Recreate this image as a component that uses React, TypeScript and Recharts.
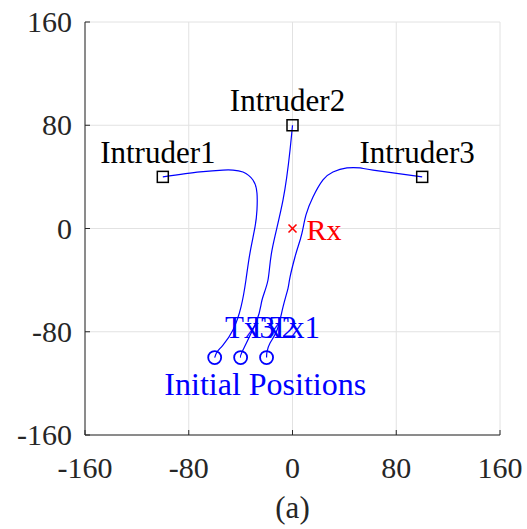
import React from 'react';
import { ScatterChart, Scatter, XAxis, YAxis, CartesianGrid } from 'recharts';

const X_TICKS = [-160, -80, 0, 80, 160];
const Y_TICKS = [-160, -80, 0, 80, 160];

// intruder end points
const INTRUDER_X = [-100, 0, 100];
const INTRUDER_Y = [40, 80, 40];
const INTRUDER_NAMES = ['Intruder1', 'Intruder2', 'Intruder3'];

// transmitter start points
const START_X = [-60, -40, -20];
const START_Y = [-100, -100, -100];

// Tx label anchors (text baseline, left edge)
const TX_NAMES = ['Tx3', 'Tx2', 'Tx1'];
const TX_LABEL_X = [-52, -35, -17.3];
const TX_LABEL_Y = [-85, -85, -85];

const RX_X = 0;
const RX_Y = 0;

// trajectories [x, y]
const PATH_TX3 = [
  [-60, -100], [-58.2, -95.7], [-53.6, -90.3], [-45.9, -78.6], [-39.7, -60.8],
  [-35.9, -39.9], [-32.8, -19.0], [-28.9, 1.2], [-27.4, 14.3], [-27.4, 27.5],
  [-30.5, 37.6], [-38.2, 43.8], [-45.9, 45.3], [-53.6, 45.3], [-71.3, 43.8], [-100, 40],
];
const PATH_TX2 = [
  [-40, -100], [-38.2, -94.1], [-27.4, -70.9], [-23.5, -55.4], [-18.9, -39.9],
  [-15.8, -16.7], [-7.3, 22.1], [-1.9, 60.8], [0, 80],
];
const PATH_TX1 = [
  [-20, -100], [-19.7, -95.7], [-17.3, -88.7], [-11.9, -78.6], [-7.3, -60.8],
  [-3.5, -46.5], [-1.9, -37.6], [1.9, -22.1], [4.2, -14.3], [7.3, -3.5], [10.4, 10.5],
  [15.8, 24.4], [23.5, 37.6], [31.2, 43.8], [42.0, 46.9], [52.1, 46.9], [62.1, 45.3], [100, 40],
];

const FONT = '"Liberation Serif", "Times New Roman", serif';
const AXIS_COLOR = '#262626';
const BLUE = '#0000ff';

const toPoints = (path: number[][]) => path.map(([x, y]) => ({ x, y }));

const intruders = INTRUDER_X.map((x, i) => ({ x, y: INTRUDER_Y[i], name: INTRUDER_NAMES[i] }));
const starts = START_X.map((x, i) => ({ x, y: START_Y[i] }));
const txLabels = TX_LABEL_X.map((x, i) => ({ x, y: TX_LABEL_Y[i], name: TX_NAMES[i] }));
const initLabel = [{ x: -21, y: -129, name: 'Initial Positions' }];
const rx = [{ x: RX_X, y: RX_Y, name: 'Rx' }];

const XTick = (props: any) => {
  const { x, y, payload } = props;
  return (
    <g>
      <line x1={x} y1={y} x2={x} y2={y - 5} stroke={AXIS_COLOR} />
      <text x={x} y={y + 43} textAnchor="middle" style={{ fontFamily: FONT }} fontSize={30} fill={AXIS_COLOR}>
        {payload.value}
      </text>
    </g>
  );
};

const YTick = (props: any) => {
  const { x, y, payload } = props;
  return (
    <g>
      <line x1={x} y1={y} x2={x + 5} y2={y} stroke={AXIS_COLOR} />
      <text x={x - 13} y={y + 10} textAnchor="end" style={{ fontFamily: FONT }} fontSize={30} fill={AXIS_COLOR}>
        {payload.value}
      </text>
    </g>
  );
};

const IntruderShape = (props: any) => {
  const { cx, cy, payload } = props;
  return (
    <g>
      <rect x={cx - 5.5} y={cy - 5.5} width={11} height={11} fill="none" stroke="#000" strokeWidth={1.5} />
      <text x={cx - 5} y={cy - 14} textAnchor="middle" style={{ fontFamily: FONT }} fontSize={31} fill="#000">
        {payload.name}
      </text>
    </g>
  );
};

const StartShape = (props: any) => (
  <circle cx={props.cx} cy={props.cy} r={6.5} fill="none" stroke={BLUE} strokeWidth={1.8} />
);

const TxLabelShape = (props: any) => (
  <text x={props.cx} y={props.cy} style={{ fontFamily: FONT }} fontSize={31} fill={BLUE}>
    {props.payload.name}
  </text>
);

const InitLabelShape = (props: any) => (
  <text x={props.cx} y={props.cy} textAnchor="middle" style={{ fontFamily: FONT }} fontSize={32} fill={BLUE}>
    {props.payload.name}
  </text>
);

const RxShape = (props: any) => {
  const { cx, cy, payload } = props;
  return (
    <g>
      <line x1={cx - 4} y1={cy - 4} x2={cx + 4} y2={cy + 4} stroke="#ff0000" strokeWidth={1.6} />
      <line x1={cx - 4} y1={cy + 4} x2={cx + 4} y2={cy - 4} stroke="#ff0000" strokeWidth={1.6} />
      <text x={cx + 14} y={cy + 11} style={{ fontFamily: FONT }} fontSize={30} fill="#ff0000">
        {payload.name}
      </text>
    </g>
  );
};

const Caption = (props: any) => {
  const { viewBox } = props;
  return (
    <text
      x={viewBox.x + viewBox.width / 2}
      y={viewBox.y + 83}
      textAnchor="middle"
      style={{ fontFamily: FONT }}
      fontSize={31}
      fill={AXIS_COLOR}
    >
      (a)
    </text>
  );
};

const NoDot = () => <g />;

export default function App() {
  return (
    <div style={{ position: 'absolute', left: 0, top: 0, background: '#fff' }}>
      <ScatterChart width={527} height={529} margin={{ top: 22, right: 27, bottom: 0, left: 0 }}>
        <CartesianGrid stroke="#e2e2e2" />
        <XAxis
          type="number"
          dataKey="x"
          domain={[-160, 160]}
          ticks={X_TICKS}
          height={94}
          tickSize={0}
          tickMargin={0}
          tick={<XTick />}
          axisLine={{ stroke: AXIS_COLOR }}
          label={<Caption />}
        />
        <YAxis
          type="number"
          dataKey="y"
          domain={[-160, 160]}
          ticks={Y_TICKS}
          width={85}
          tickSize={0}
          tickMargin={0}
          tick={<YTick />}
          axisLine={{ stroke: AXIS_COLOR }}
        />
        {[PATH_TX3, PATH_TX2, PATH_TX1].map((path, i) => (
          <Scatter
            key={i}
            data={toPoints(path)}
            line={{ stroke: BLUE, strokeWidth: 1.2 }}
            lineJointType="natural"
            shape={NoDot}
            isAnimationActive={false}
          />
        ))}
        <Scatter data={intruders} shape={IntruderShape} isAnimationActive={false} />
        <Scatter data={starts} shape={StartShape} isAnimationActive={false} />
        <Scatter data={txLabels} shape={TxLabelShape} isAnimationActive={false} />
        <Scatter data={initLabel} shape={InitLabelShape} isAnimationActive={false} />
        <Scatter data={rx} shape={RxShape} isAnimationActive={false} />
      </ScatterChart>
    </div>
  );
}
